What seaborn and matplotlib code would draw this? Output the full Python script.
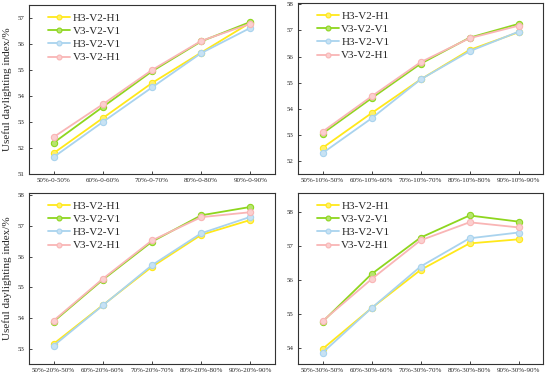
import matplotlib
matplotlib.use('Agg')
import matplotlib.pyplot as plt
import matplotlib.colors as mcolors
import numpy as np
import pandas as pd
import seaborn as sns

sns.set_style('ticks')
plt.rcParams['font.family'] = ['Liberation Serif', 'DejaVu Serif']

# Data
series_names = ['H3-V2-H1', 'V3-V2-V1', 'H3-V2-V1', 'V3-V2-H1']
colors = ['#FFE81A', '#8ED61E', '#A9D3EE', '#F9B5B5']
mids = ['0', '10%', '20%', '30%']
ratios = ['50%', '60%', '70%', '80%', '90%']

panel1 = {
    'H3-V2-H1': [51.80, 53.15, 54.50, 55.67, 56.82],
    'V3-V2-V1': [52.20, 53.58, 54.95, 56.10, 56.85],
    'H3-V2-V1': [51.65, 53.00, 54.33, 55.65, 56.62],
    'V3-V2-H1': [52.42, 53.68, 55.00, 56.12, 56.78],
}
panel2 = {
    'H3-V2-H1': [52.50, 53.83, 55.12, 56.25, 56.93],
    'V3-V2-V1': [53.05, 54.40, 55.72, 56.72, 57.25],
    'H3-V2-V1': [52.30, 53.63, 55.12, 56.20, 56.95],
    'V3-V2-H1': [53.12, 54.47, 55.78, 56.70, 57.18],
}
panel3 = {
    'H3-V2-H1': [53.18, 54.43, 55.67, 56.70, 57.18],
    'V3-V2-V1': [53.90, 55.25, 56.48, 57.33, 57.60],
    'H3-V2-V1': [53.12, 54.42, 55.72, 56.75, 57.28],
    'V3-V2-H1': [53.93, 55.28, 56.52, 57.27, 57.43],
}
panel4 = {
    'H3-V2-H1': [53.98, 55.18, 56.30, 57.08, 57.20],
    'V3-V2-V1': [54.78, 56.18, 57.25, 57.90, 57.72],
    'H3-V2-V1': [53.87, 55.18, 56.40, 57.23, 57.40],
    'V3-V2-H1': [54.80, 56.03, 57.17, 57.70, 57.55],
}
panels = [panel1, panel2, panel3, panel4]
ylims = [(51, 57.5), (51.5, 58.05), (52.53, 58.05), (53.54, 58.56)]
yticks = [range(51, 58), range(52, 59), range(53, 59), range(54, 59)]


def lighten(c, amt=0.35):
    rgb = np.array(mcolors.to_rgb(c))
    return tuple(rgb + (1 - rgb) * amt)


fig = plt.figure(figsize=(5.5, 3.78), dpi=100)
W, H = 550, 378
boxes = [(29, 5, 275, 174), (298, 3, 543, 174),
         (29, 193, 275, 364), (298, 193, 543, 364)]

for i, (panel, box) in enumerate(zip(panels, boxes)):
    x0, y0, x1, y1 = box
    ax = fig.add_axes([x0 / W, 1 - y1 / H, (x1 - x0) / W, (y1 - y0) / H])
    labels = [f'{r}-{mids[i]}-{r}' for r in ratios]
    rows = []
    for name in series_names:
        for lab, v in zip(labels, panel[name]):
            rows.append({'case': lab, 'value': v, 'series': name})
    df = pd.DataFrame(rows)
    sns.lineplot(data=df, x='case', y='value', hue='series', hue_order=series_names,
                 palette=colors, marker='o', markersize=4.5, linewidth=1.3,
                 markeredgewidth=0.8, ax=ax, sort=False)
    for line in ax.lines:
        line.set_markeredgecolor(line.get_color())
        line.set_markerfacecolor(lighten(line.get_color()))
    ax.set_xlim(-0.5, 4.5)
    ax.set_ylim(*ylims[i])
    ax.set_yticks(list(yticks[i]))
    ax.tick_params(direction='in', length=2.5, width=0.6, labelsize=5, pad=3)
    for s in ax.spines.values():
        s.set_linewidth(0.8)
        s.set_color('#333333')
    ax.set_xlabel('')
    if i % 2 == 0:
        ax.set_ylabel('Useful daylighting index/%', fontsize=8, labelpad=4)
    else:
        ax.set_ylabel('')
    leg = ax.legend(loc='upper left', bbox_to_anchor=(0.05, 0.99), frameon=False, fontsize=8,
                    handlelength=2.0, labelspacing=0.3, handletextpad=0.2, borderaxespad=0.2)
    for h in leg.legend_handles:
        h.set_markersize(3.5)
        h.set_markeredgecolor(h.get_color())
        h.set_markerfacecolor(lighten(h.get_color()))

fig.savefig('out.png', dpi=100)
